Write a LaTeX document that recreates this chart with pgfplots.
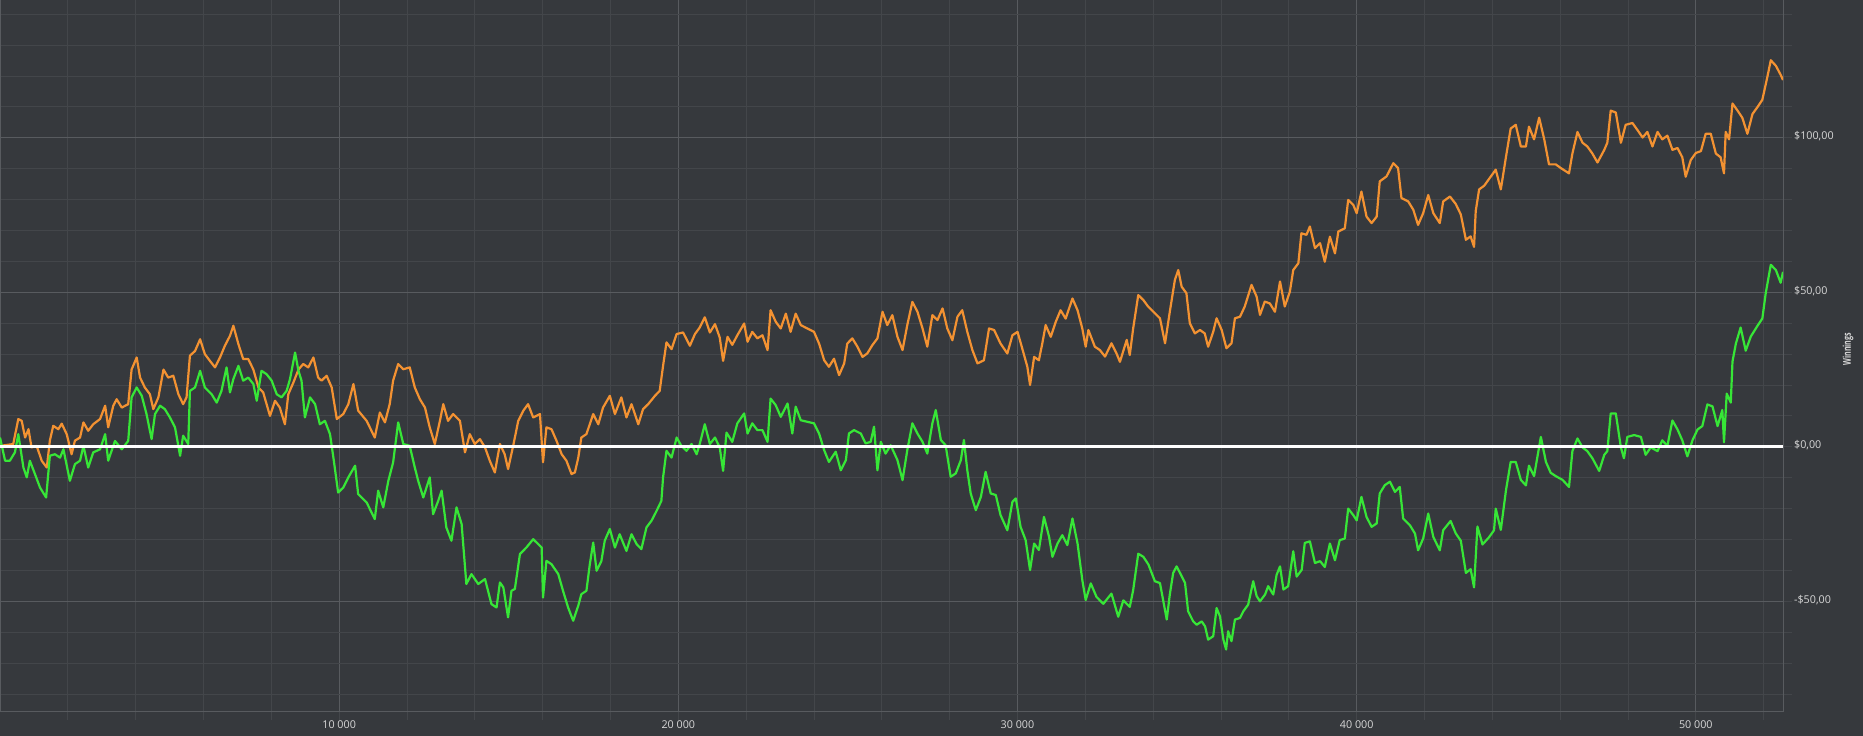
\documentclass[border=0pt]{standalone}
\usepackage{pgfplots}
\pgfplotsset{compat=1.18}
\usepackage{pgfplotstable}
\usepackage{fontspec}
\setmainfont{Open Sans}
\newfontfamily\condfont[FakeStretch=0.66]{Open Sans}
\definecolor{bg}{RGB}{54,57,61}
\definecolor{gridmin}{RGB}{67,70,74}
\definecolor{gridmaj}{RGB}{88,91,95}
\definecolor{labelc}{RGB}{215,215,215}
\definecolor{orangec}{RGB}{243,146,50}
\definecolor{greenc}{RGB}{55,230,55}

\pgfplotstableread{
x y
0 0.3
200 0.6
390 0.9
540 9
640 8.4
740 3
840 5.7
930 -0.2
1080 0.3
1230 -4.5
1380 -6.7
1470 2
1570 6.8
1720 5.7
1820 7.5
1970 4
2110 -2.4
2210 2
2360 3
2460 7.9
2600 5.2
2750 7.3
2950 9
3100 13.3
3190 6.3
3340 13.3
3440 15.4
3590 12.7
3780 13.8
3880 25
4030 28.9
4130 22.4
4270 19.2
4420 17
4520 12.2
4670 16
4820 25
4960 22.4
5110 23
5260 17
5400 13.8
5500 16
5600 29.5
5750 31
5900 34.8
6040 30
6190 27.8
6340 25.7
6490 29
6630 32.7
6780 35.9
6880 39.2
7030 33.2
7170 28.4
7320 28.4
7470 25
7620 19.2
7760 17.6
7960 10
8110 14.9
8250 12.7
8400 7.3
8500 17
8650 20.8
8800 25
8940 26.8
9090 25.7
9240 28.9
9380 22.4
9480 21.4
9630 23
9780 19.2
9930 9
10120 10.6
10270 13.8
10420 20.3
10560 11.7
10810 8.4
11050 3
11200 11.1
11350 7.9
11490 13.8
11590 21.4
11740 26.8
11890 25.1
12080 25.7
12230 19.2
12380 15.4
12530 12.7
12670 6.3
12820 0.9
12970 8.4
13070 13.8
13210 8.4
13360 10.6
13560 8.4
13710 -1.8
13850 4.1
14000 0.9
14150 2.5
14300 -0.2
14440 -4.5
14590 -8.3
14740 0.9
14880 -2.4
14980 -7.2
15130 0.3
15280 8.4
15430 11.7
15570 13.8
15720 9.5
15920 10.6
16010 -5
16110 6.3
16260 5.7
16410 1.9
16560 -2.4
16700 -4.5
16850 -8.8
16950 -8.3
17050 -3.5
17140 3
17290 4.1
17490 10.6
17640 7.3
17780 12.7
17980 16.5
18130 10.6
18320 16
18470 9.5
18620 13.8
18820 7.3
18960 12.2
19110 13.8
19310 16.5
19450 18.1
19550 26.2
19650 33.8
19800 31.6
19950 36.5
20140 37
20340 32.7
20490 36.5
20630 38.6
20780 41.9
20930 37
21080 39.7
21220 35.4
21320 27.8
21450 35.6
21590 33
21740 36.1
21940 39.9
22040 34
22180 37.2
22330 35.1
22480 36.1
22630 31.3
22720 44.2
22870 40.5
23020 38.3
23170 43.1
23310 37.2
23460 43.1
23610 39.4
23800 38.3
24000 37.2
24150 33.4
24300 28
24440 25.9
24590 28.5
24740 23.2
24890 27
24980 33.4
25130 35.1
25280 32.4
25430 29.1
25570 30.2
25720 32.9
25870 35.1
26020 43.7
26160 39.4
26310 42.6
26460 35.6
26610 31.3
26750 39.4
26900 46.9
27050 43.7
27200 38.3
27340 32.4
27490 42.6
27640 41
27790 44.8
27930 38.3
28080 34.5
28230 42.1
28370 44.2
28520 37.2
28670 31.3
28820 27
29010 28
29160 38.3
29310 37.8
29500 33.4
29700 30.2
29850 36.1
30000 37.2
30140 31.8
30290 25.9
30370 20
30490 29.1
30630 28
30730 33.4
30830 39.4
30980 35.6
31130 40.5
31270 44.2
31420 41.5
31620 48
31770 44.2
31910 38.3
32010 32.4
32090 37.8
32280 32.4
32430 31.3
32580 29.2
32770 33.5
32920 30.2
33020 27.5
33220 34.6
33310 29.7
33410 38.3
33560 49.1
33710 47.5
33850 45.4
34050 43.2
34200 41.6
34350 33.5
34490 43.7
34640 54
34740 57.2
34840 51.8
34980 49.7
35080 40
35230 36.7
35380 37.8
35520 36.7
35620 32.4
35770 37.2
35870 41.6
36020 37.8
36160 31.9
36310 33.5
36410 41.6
36560 42.1
36700 45.4
36900 52.4
37050 48.6
37150 42.7
37290 47
37440 46.4
37590 43.7
37740 53.5
37880 45.4
38030 50.2
38130 57.2
38280 59.4
38370 69.1
38520 68.6
38620 71.3
38770 64.3
38920 65.9
39060 59.9
39210 68
39360 62.6
39460 69.7
39650 70.7
39750 79.9
39900 78.3
40000 75.6
40140 82.6
40290 74.5
40440 72.4
40590 74.5
40680 85.9
40880 87.5
41080 91.8
41220 90.2
41320 80.5
41520 79.4
41670 76.7
41810 71.8
41960 75.6
42110 81.5
42260 75.6
42450 72.4
42550 79.4
42750 81
42920 78.6
43070 75.2
43220 67
43360 68.1
43460 64.7
43510 76.3
43610 83.3
43760 84.5
43950 87.4
44100 89.7
44250 83.3
44400 93.7
44540 103
44690 104.2
44840 97.2
44990 97.2
45080 103.6
45230 99.5
45380 106.5
45530 99.5
45670 91.4
45870 91.4
46020 90.2
46260 88.5
46360 94.9
46510 101.9
46660 98.4
46800 97.2
46950 94.9
47100 92
47300 96.1
47390 98.4
47490 108.8
47640 108.2
47790 98.4
47930 104.2
48130 104.8
48280 102.5
48430 100.1
48570 101.9
48720 97.2
48870 101.9
49010 99.5
49160 100.7
49310 96.1
49460 96.7
49600 93.7
49700 87.4
49850 92.8
50000 95.1
50150 95.7
50290 101.3
50440 101.3
50590 94.9
50730 93.7
50830 88.5
50880 101.9
50980 99.5
51080 111.1
51230 108.8
51370 106.5
51520 101.3
51670 107.7
51820 110
51960 112.3
52110 119.8
52210 125.1
52360 123.3
52500 120.4
52570 118.7
}\orangedata

\pgfplotstableread{
x y
0 3
150 -4.5
290 -4.5
440 -1.8
540 4.1
690 -6.7
790 -9.9
880 -4.5
1030 -8.8
1180 -13.2
1360 -16.4
1470 -2.9
1620 -2.4
1770 -3.5
1870 -0.8
2060 -11
2210 -5.6
2360 -4.5
2460 0.3
2600 -6.7
2750 -1.8
2950 -0.8
3100 4.1
3190 -4.5
3390 1.9
3590 -0.8
3780 1.9
3880 16
4030 19.2
4180 16.5
4320 10.6
4470 2.5
4570 10.6
4720 13.3
4860 12.2
5010 9.5
5160 6.3
5310 -2.9
5400 3.6
5550 0.9
5600 18.1
5750 19.2
5900 24.6
6040 19.2
6240 17
6390 14.3
6530 18.1
6680 25.7
6780 17.6
6880 21.9
7030 26.2
7170 21.4
7320 22.4
7470 20.3
7570 14.9
7710 24.6
7860 23.5
8010 21.4
8160 17
8300 16
8450 18.1
8550 21.9
8700 30.5
8800 24.6
8890 21.4
8990 9.5
9140 16
9290 13.8
9430 7.3
9580 8.4
9730 4.1
9830 -3.5
9970 -14.8
10120 -13.2
10270 -9.9
10470 -6.1
10560 -15.3
10760 -17.5
10810 -18
11050 -23.4
11150 -14.2
11300 -19.6
11450 -11
11590 -5.1
11740 7.9
11890 0.9
12080 0.3
12230 -6.7
12330 -11
12480 -16.4
12670 -9.9
12770 -21.8
12920 -17.5
13020 -14.2
13160 -26.1
13310 -30.4
13460 -19.6
13610 -25
13750 -44.4
13900 -41.2
14100 -44.4
14300 -42.8
14490 -50.9
14640 -52
14740 -43.9
14840 -45.5
14980 -55.2
15080 -46.6
15180 -46
15330 -34.7
15520 -32.6
15720 -29.9
15870 -31.5
15970 -32.6
16010 -48.8
16110 -36.9
16260 -38
16460 -41.2
16600 -46.6
16750 -52
16900 -56.3
17050 -51.4
17140 -47.7
17290 -46.6
17390 -38
17490 -31
17590 -40.1
17730 -37
17830 -30.4
17980 -26.6
18130 -32.6
18270 -28.3
18470 -33.7
18620 -28.3
18770 -31.5
18910 -33.1
19060 -26.1
19210 -23.9
19360 -20.7
19500 -17.5
19550 -9.9
19650 -1.3
19800 -3.5
19950 3
20090 0.3
20240 -1.3
20390 0.9
20540 -2.4
20630 0.9
20780 7.3
20930 0.9
21080 3
21220 -0.2
21320 -7.8
21420 4.6
21590 1.6
21740 7.6
21940 10.8
22040 4.3
22180 7.6
22330 5.4
22480 5.4
22630 1.6
22720 15.6
22870 13.5
23020 9.7
23220 14
23360 4.3
23460 13
23610 8.6
23800 8.1
24000 7.6
24150 4.3
24300 -1.1
24440 -4.9
24640 -1.6
24790 -7.6
24940 -4.3
25030 4.3
25180 5.4
25380 4.3
25520 1.1
25670 1.6
25770 6.5
25870 -7.6
25970 1.6
26110 -2.2
26260 0.5
26460 -4.3
26610 -10.8
26750 -1.1
26900 7.6
27050 4.3
27200 1.6
27340 -2.2
27490 7.6
27590 11.9
27740 2.2
27880 0.5
28030 -9.7
28180 -8.6
28330 -4.3
28420 2.2
28520 -7.6
28620 -15.1
28770 -20.5
28920 -16.2
29060 -8.1
29210 -15.1
29360 -15.6
29500 -22.1
29700 -27
29850 -17.8
29950 -16.7
30090 -25.9
30240 -30.2
30370 -39.9
30490 -31.3
30630 -33.4
30780 -22.7
30930 -29.1
31030 -35.6
31180 -31.3
31320 -28.6
31470 -31.8
31620 -23.2
31770 -31.3
31910 -43.1
32010 -49.6
32160 -44.2
32330 -48.6
32530 -50.8
32770 -47.5
32970 -55
33120 -49.7
33310 -51.8
33410 -46.4
33560 -34.6
33710 -35.6
33860 -38.1
34050 -43.5
34200 -44.1
34300 -50
34400 -55.9
34490 -47.8
34590 -40.8
34690 -38.7
34790 -40.8
34940 -44.1
35030 -53.2
35180 -56.5
35280 -57.6
35430 -56.5
35530 -58.1
35620 -62.4
35770 -61.3
35870 -52.2
35970 -54.9
36070 -62.4
36150 -65.6
36210 -59.7
36310 -62.9
36410 -55.9
36560 -55.4
36660 -53.2
36800 -51.1
36950 -43.5
37050 -48.3
37150 -50
37300 -47.8
37390 -45.1
37540 -47.8
37640 -41.4
37740 -38.7
37840 -46.2
37980 -45.1
38130 -33.8
38230 -42
38380 -39.8
38470 -31.1
38620 -30.6
38770 -37.6
38920 -37
39060 -38.9
39210 -31.3
39360 -36.7
39500 -30.2
39650 -29.7
39750 -20
39900 -22.1
40000 -23.8
40140 -16.2
40290 -22.7
40440 -25.9
40590 -24.8
40680 -15.1
40830 -12.4
40980 -11.3
41130 -14.6
41270 -13
41370 -23.2
41570 -25.4
41720 -28.1
41810 -33.5
41960 -29.7
42110 -21.6
42260 -29.2
42450 -33.5
42550 -27
42770 -24
42920 -28
43070 -30.4
43220 -40.8
43360 -39.6
43460 -45.5
43560 -25.8
43710 -31.6
43900 -29.3
44050 -27
44100 -20
44250 -26.9
44400 -14.2
44540 -4.9
44690 -4.9
44840 -10.7
44990 -12.5
45080 -6.1
45230 -9.5
45430 3.2
45580 -4.9
45720 -8.4
45870 -9.5
46070 -10.7
46260 -13
46360 -1.4
46510 2.7
46660 -0.2
46800 -1.4
46950 -3.7
47150 -7.8
47300 -2.6
47390 -1.4
47490 10.8
47640 10.8
47790 -0.2
47880 -3.7
47980 3.2
48180 3.8
48380 3.2
48520 -2.6
48670 -0.2
48870 -1.4
49010 2.1
49160 0.3
49310 8.5
49460 5.6
49600 2.1
49750 -3.1
49900 2.1
50050 5.6
50190 6.7
50340 13.7
50490 13.1
50640 6.7
50780 11.9
50830 1.5
50910 17.2
51030 14.3
51080 27.6
51180 33.4
51320 38.6
51470 31.1
51620 35.7
51820 39.2
51960 41.5
52060 49.7
52210 58.9
52360 57.2
52500 53.1
52570 56.6
}\greendata

\begin{document}
\begin{tikzpicture}
\useasboundingbox (0,-12.5bp) rectangle (931.5bp,355.5bp);
\fill[bg] (0,-12.5bp) rectangle (931.5bp,355.5bp);
\begin{axis}[
  scale only axis, width=891.5bp, height=355.5bp,
  at={(0,0)}, anchor=south west,
  xmin=0, xmax=52570, ymin=-85.5, ymax=144.6,
  scaled x ticks=false,
  xtick={10000,20000,30000,40000,50000},
  xticklabels={10 000,20 000,30 000,40 000,50 000},
  minor xtick={2000,4000,...,52000},
  ytick={-50,0,50,100},
  yticklabels={{-\$50,00},{\$0,00},{\$50,00},{\$100,00}},
  minor ytick={-80,-70,...,140},
  grid=both,
  major grid style={draw=gridmaj, line width=0.5bp},
  minor grid style={draw=gridmin, line width=0.5bp},
  axis line style={draw=gridmaj, line width=0.5bp},
  tick align=outside,
  xtick pos=left, ytick pos=right, yticklabel pos=right,
  major tick length=4.5bp, minor tick length=4.5bp,
  tick style={draw=gridmin, line width=0.5bp},
  xticklabel style={font=\fontsize{5.4}{6.5}\selectfont, text=labelc, inner sep=0pt, anchor=base, yshift=-4.15bp},
  yticklabel style={font=\fontsize{5.4}{6.5}\selectfont, text=labelc, inner sep=0.85bp, anchor=west, yshift=0.6bp},
  ylabel={Winnings},
  ylabel style={at={(axis description cs:1.0365,0.5087)}, anchor=center, font=\condfont\bfseries\fontsize{5.4}{6.5}\selectfont, text=labelc},
  every axis plot/.append style={mark=none, line join=round},
]
\addplot[orangec, line width=1.1bp] table[x=x, y=y] {\orangedata};
\addplot[greenc, line width=1.1bp] table[x=x, y=y] {\greendata};
\addplot[white, line width=1.5bp] coordinates {(0,0) (52570,0)};
\end{axis}
\end{tikzpicture}
\end{document}
